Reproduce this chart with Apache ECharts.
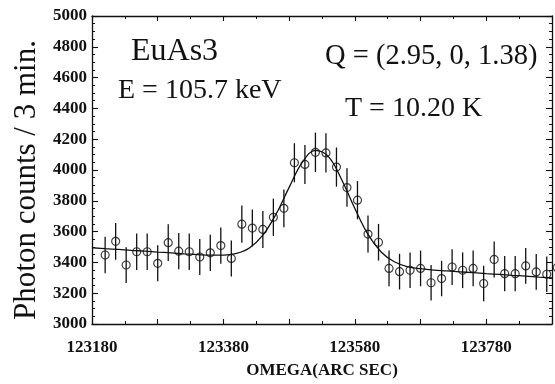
<!DOCTYPE html>
<html>
<head>
<meta charset="utf-8">
<script src="https://cdn.jsdelivr.net/npm/echarts@6/dist/echarts.min.js"></script>
<style>
  html, body { margin: 0; padding: 0; background: #fff; }
  #main { width: 555px; height: 384px; }
</style>
</head>
<body>
<div id="main"></div>
<script>
// measured points (omega in arc sec, photon counts per 3 min)
var omega = [123200, 123216, 123232, 123248, 123264, 123280, 123296, 123312, 123328, 123344,
  123360, 123376, 123392, 123408, 123424, 123440, 123456, 123472, 123488, 123504,
  123520, 123536, 123552, 123568, 123584, 123600, 123616, 123632, 123648, 123664,
  123680, 123696, 123712, 123728, 123744, 123760, 123776, 123792, 123808, 123824,
  123840, 123856, 123872, 123888];
var counts = [3448, 3537, 3383, 3469, 3469, 3394, 3528, 3473, 3469, 3435,
  3462, 3509, 3426, 3648, 3623, 3614, 3693, 3751, 4047, 4036,
  4115, 4111, 4019, 3886, 3804, 3584, 3531, 3361, 3340, 3349,
  3361, 3268, 3295, 3370, 3349, 3361, 3263, 3419, 3327, 3327,
  3377, 3338, 3323, 3366];
var errors = [118, 119, 116, 118, 118, 117, 119, 118, 118, 117,
  118, 118, 117, 121, 120, 120, 121, 122, 127, 127,
  128, 128, 127, 125, 124, 120, 119, 116, 116, 116,
  116, 115, 115, 116, 116, 116, 115, 117, 115, 115,
  116, 116, 115, 116];

// fitted curve
var fitOmega = [123180, 123200, 123220, 123240, 123260, 123280, 123300, 123320, 123340, 123360,
  123380, 123400, 123420, 123440, 123460, 123480, 123500, 123520, 123540, 123560,
  123580, 123600, 123620, 123640, 123660, 123680, 123700, 123720, 123740, 123760,
  123780, 123800, 123820, 123840, 123860, 123880];
var fitCounts = [3495, 3489, 3484, 3478, 3473, 3467, 3462, 3456, 3451, 3447,
  3447, 3458, 3495, 3577, 3713, 3887, 4049, 4127, 4085, 3937,
  3750, 3582, 3468, 3404, 3373, 3359, 3350, 3345, 3339, 3333,
  3327, 3322, 3316, 3311, 3305, 3300];

var xTickLabels = [123180, 123380, 123580, 123780];

var FONT = '"Liberation Serif", "DejaVu Serif", serif';
var INK = '#111';

var chart = echarts.init(document.getElementById('main'));

var pts = [], bars = [], fit = [];
omega.forEach(function (x, i) {
  pts.push([x, counts[i]]);
  bars.push([x, counts[i] - errors[i], counts[i] + errors[i]]);
});
fitOmega.forEach(function (x, i) {
  fit.push([x, fitCounts[i]]);
});

function frameAxis(pos, isX) {
  var ax = {
    type: 'value',
    position: pos,
    min: isX ? 123180 : 3000,
    max: isX ? 123880 : 5000,
    interval: isX ? 100 : 200,
    axisLine: { show: true, onZero: false, lineStyle: { color: INK, width: 1.3 } },
    axisTick: { show: true, inside: true, length: isX ? 5 : 6, lineStyle: { color: INK, width: 1.1 } },
    minorTick: { show: true, splitNumber: isX ? 2 : 4, length: 3, lineStyle: { color: INK, width: 1 } },
    splitLine: { show: false },
    axisLabel: { show: false }
  };
  return ax;
}

var xBottom = frameAxis('bottom', true);
xBottom.axisLabel = {
  show: true,
  margin: 15,
  color: INK,
  fontFamily: FONT,
  fontWeight: 'bold',
  fontSize: 17,
  formatter: function (v) {
    return xTickLabels.indexOf(v) >= 0 ? String(v) : '';
  }
};
xBottom.name = 'OMEGA(ARC SEC)';
xBottom.nameLocation = 'middle';
xBottom.nameGap = 38;
xBottom.nameTextStyle = { color: INK, fontFamily: FONT, fontWeight: 'bold', fontSize: 17 };

var yLeft = frameAxis('left', false);
yLeft.axisLabel = {
  show: true,
  margin: 5,
  color: INK,
  fontFamily: FONT,
  fontWeight: 'bold',
  fontSize: 17,
  formatter: function (v) { return String(v); }
};

var option = {
  animation: false,
  backgroundColor: '#fff',
  grid: { left: 92, right: 2, top: 16, bottom: 57 },
  xAxis: [xBottom, frameAxis('top', true)],
  yAxis: [yLeft, frameAxis('right', false)],
  series: [
    {
      type: 'line',
      data: fit,
      smooth: 0.4,
      showSymbol: false,
      lineStyle: { color: INK, width: 1.3 },
      z: 2
    },
    {
      type: 'custom',
      data: bars,
      clip: false,
      renderItem: function (params, api) {
        var top = api.coord([api.value(0), api.value(2)]);
        var bot = api.coord([api.value(0), api.value(1)]);
        return {
          type: 'line',
          shape: { x1: top[0], y1: top[1], x2: bot[0], y2: bot[1] },
          style: { stroke: INK, lineWidth: 1.3 }
        };
      },
      z: 3
    },
    {
      type: 'scatter',
      data: pts,
      clip: false,
      symbol: 'circle',
      symbolSize: 8,
      itemStyle: { color: 'none', borderColor: INK, borderWidth: 1.2 },
      z: 4
    }
  ],
  graphic: [
    { type: 'text', left: 131, top: 36, style: { text: 'EuAs3', font: '32px ' + FONT, fill: INK } },
    { type: 'text', left: 118, top: 77, style: { text: 'E = 105.7 keV', font: '28px ' + FONT, fill: INK } },
    { type: 'text', left: 325, top: 42, style: { text: 'Q = (2.95, 0, 1.38)', font: '28.5px ' + FONT, fill: INK } },
    { type: 'text', left: 345, top: 95, style: { text: 'T = 10.20 K', font: '28px ' + FONT, fill: INK } },
    {
      type: 'text', x: 27, y: 180, rotation: Math.PI / 2,
      style: { text: 'Photon counts / 3 min.', font: '31px ' + FONT, fill: INK, align: 'center', verticalAlign: 'middle' }
    }
  ]
};

chart.setOption(option);
</script>
</body>
</html>
